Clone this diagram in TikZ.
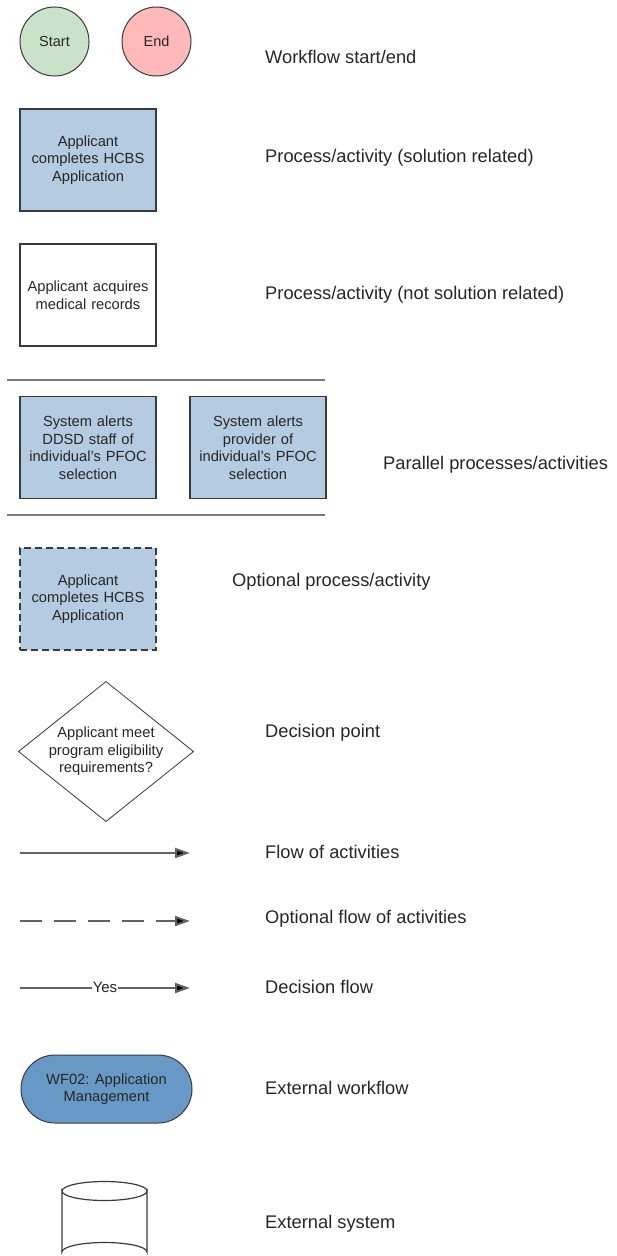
\documentclass[tikz,border=0pt]{standalone}
\usepackage{fontspec}
\setmainfont{Liberation Sans}
\usetikzlibrary{shapes.geometric,shapes.misc,arrows.meta}
\definecolor{procblue}{HTML}{B4CBE1}
\definecolor{extblue}{HTML}{6899C6}
\definecolor{startgreen}{HTML}{C9E2C9}
\definecolor{endred}{HTML}{FFB9B9}
\definecolor{edgegrey}{HTML}{3A3A3A}
\definecolor{lineGrey}{HTML}{626262}
\definecolor{sepgrey}{HTML}{7A7A7A}
\definecolor{textdark}{HTML}{262626}
\tikzset{
  x=1pt, y=-1pt,
  every node/.style={text=textdark},
  boxtext/.style={font=\fontsize{14.7}{17.5}\selectfont, align=center},
  legend/.style={anchor=west, font=\fontsize{18.3}{22}\selectfont, inner sep=0pt},
  terminal/.style={circle, draw=edgegrey, line width=1pt, minimum size=69pt, inner sep=0pt, font=\fontsize{14.5}{17.5}\selectfont},
  procbox/.style={boxtext, rectangle, draw=edgegrey, line width=1.3pt, minimum width=136pt, minimum height=102pt, inner sep=2pt, text width=132pt},
  decision/.style={boxtext, diamond, draw=edgegrey, line width=0.8pt, minimum width=169pt, minimum height=135pt, inner sep=0pt, aspect=1.25},
  extflow/.style={boxtext, rounded rectangle, draw=edgegrey, line width=1pt, fill=extblue, minimum width=171pt, minimum height=68pt, inner sep=0pt},
  separator/.style={draw=sepgrey, line width=1.8pt},
  flow/.style={draw=lineGrey, line width=2pt, -{Triangle[length=15pt, width=10pt, fill=black]}},
}
\begin{document}
\begin{tikzpicture}
\useasboundingbox (0,0) rectangle (616,1256);
\clip (0,0) rectangle (616,1256);

% start / end markers
\node[terminal, fill=startgreen] (start) at (54.5,41.5) {Start};
\node[terminal, fill=endred] (end) at (156.5,41.5) {End};
\node[legend] (lstart) at (265,57) {Workflow start/end};

% process, solution related
\node[procbox, fill=procblue] (proc) at (88,160) {Applicant\\completes HCBS\\Application};
\node[legend] (lproc) at (265,158) {Process/activity (solution related)};

% process, not solution related
\node[procbox, fill=white] (manual) at (88,295) {Applicant acquires\\medical records};
\node[legend] (lmanual) at (265,295) {Process/activity (not solution related)};

% parallel processes between two bars
\coordinate (sepAl) at (7,380);
\coordinate (sepAr) at (325,380);
\coordinate (sepBl) at (7,515);
\coordinate (sepBr) at (325,515);
\draw[separator] (sepAl) -- (sepAr);
\draw[separator] (sepBl) -- (sepBr);
\node[procbox, fill=procblue] (parA) at (88,447.5) {System alerts\\DDSD staff of\\individual's PFOC\\selection};
\node[procbox, fill=procblue] (parB) at (258,447.5) {System alerts\\provider of\\individual's PFOC\\selection};
\node[legend] (lpar) at (383,465) {Parallel processes/activities};

% optional process
\node[procbox, fill=procblue, dashed, dash pattern=on 7pt off 4pt] (opt) at (88,599) {Applicant\\completes HCBS\\Application};
\node[legend] (lopt) at (232,582) {Optional process/activity};

% decision
\node[decision, fill=white] (dec) at (106,751.5) {Applicant meet\\program eligibility\\requirements?};
\node[legend] (ldec) at (265,733) {Decision point};

% flows
\coordinate (f1a) at (20,853);
\coordinate (f1b) at (190,853);
\draw[flow] (f1a) -- (f1b);
\node[legend] (lf1) at (265,852) {Flow of activities};

\coordinate (f2a) at (20,921);
\coordinate (f2b) at (190,921);
\draw[flow, dash pattern=on 22pt off 12pt] (f2a) -- (f2b);
\node[legend] (lf2) at (265,919) {Optional flow of activities};

\coordinate (f3a) at (20,988);
\coordinate (f3b) at (190,988);
\draw[flow] (f3a) -- (f3b);
\node[inner sep=0.3pt, fill=white, font=\fontsize{15}{17}\selectfont, text=textdark] (yes) at (105,987.5) {Yes};
\node[legend] (lf3) at (265,987) {Decision flow};

% external workflow
\node[extflow] (ext) at (106.5,1089) {WF02: Application\\Management};
\node[legend] (lext) at (265,1088) {External workflow};

% external system (cylinder)
\draw[edgegrey, line width=1.2pt, fill=white]
  (62,1191) -- (62,1252) arc[start angle=180, end angle=360, x radius=42.5, y radius=9.5]
  -- (147,1191) arc[start angle=0, end angle=180, x radius=42.5, y radius=9.5] -- cycle;
\draw[edgegrey, line width=1.2pt] (62,1191) arc[start angle=180, end angle=360, x radius=42.5, y radius=9.5];
\node[legend] (lsys) at (265,1224) {External system};
\end{tikzpicture}
\end{document}
